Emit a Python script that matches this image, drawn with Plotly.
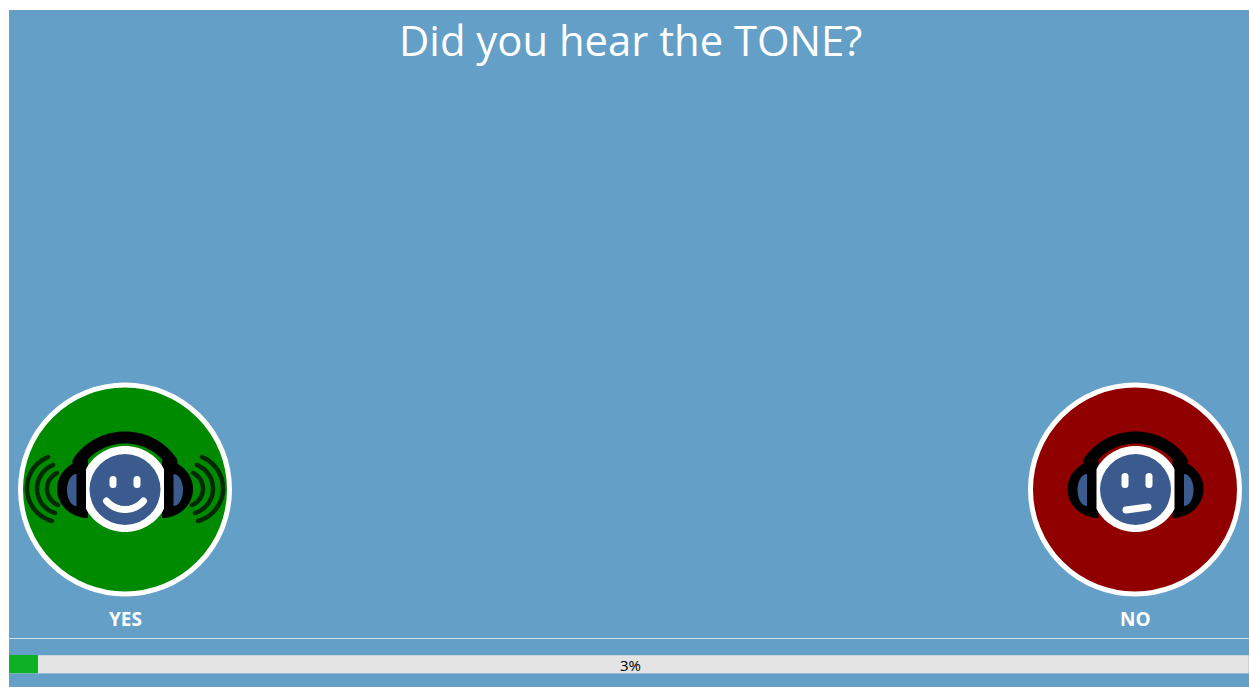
import math
import plotly.graph_objects as go

W, H = 1249, 687
title_text = "Did you hear the TONE?"
answer_labels = ["YES", "NO"]
progress_label = "3%"
progress_track = [100]
progress_fill = [2.34]

BG = "#649fc8"
BLUE = "#3b5b8f"
GREEN = "#008a00"
RED = "#900000"
FONT = "Open Sans"

shapes = []


def circle(cx, cy, r, fill, line=None, lw=0):
    shapes.append(dict(type="circle", xref="x", yref="y", x0=cx - r, x1=cx + r,
                       y0=cy - r, y1=cy + r, fillcolor=fill,
                       line=dict(color=line or fill, width=lw)))


def path(d, fill="rgba(0,0,0,0)", line="rgba(0,0,0,0)", lw=0, opacity=1):
    shapes.append(dict(type="path", xref="x", yref="y", path=d, fillcolor=fill,
                       opacity=opacity, line=dict(color=line, width=lw)))


def pts_path(points, close=True):
    s = "M" + " L".join(f"{x:.2f},{y:.2f}" for x, y in points)
    return s + (" Z" if close else "")


def curve(p0, mid, p2, color, lw):
    """Circular arc through three points."""
    ax, ay = p0
    bx, by = mid
    cx, cy = p2
    d = 2 * (ax * (by - cy) + bx * (cy - ay) + cx * (ay - by))
    ux = ((ax**2 + ay**2) * (by - cy) + (bx**2 + by**2) * (cy - ay) + (cx**2 + cy**2) * (ay - by)) / d
    uy = ((ax**2 + ay**2) * (cx - bx) + (bx**2 + by**2) * (ax - cx) + (cx**2 + cy**2) * (bx - ax)) / d
    r = math.hypot(ax - ux, ay - uy)
    a0 = math.atan2(ay - uy, ax - ux)
    am = math.atan2(by - uy, bx - ux)
    a2 = math.atan2(cy - uy, cx - ux)
    d1 = (am - a0 + math.pi) % (2 * math.pi) - math.pi
    d2 = (a2 - am + math.pi) % (2 * math.pi) - math.pi
    pts = []
    for i in range(31):
        t = i / 30
        a = a0 + (d1 + d2) * t
        pts.append((ux + r * math.cos(a), uy + r * math.sin(a)))
    path(pts_path(pts, close=False), line=color, lw=lw)


def ear(flat_x, out_x, top, bot, fill):
    cy = (top + bot) / 2
    ry = (bot - top) / 2
    pts = []
    for i in range(41):
        a = math.pi * (i / 40 - 0.5)
        pts.append((flat_x + (out_x - flat_x) * math.cos(a), cy + ry * math.sin(a)))
    path(pts_path(pts), fill=fill)


def head(cx, cy, fill, dx=0.0):
    # dial
    circle(cx, cy + 0.5, 104.5, fill, "white", 5)
    # headband
    band = []
    for i in range(41):
        a = math.radians(212 + (328 - 212) * i / 40)
        band.append((cx + dx + 55 * math.cos(a), cy + 0.5 + 52 * math.sin(a)))
    path(pts_path(band, close=False), line="black", lw=12)
    # ear cups
    for sgn in (-1, 1):
        ear(cx + dx + sgn * 37, cx + dx + sgn * 68, 460, 518, "black")
        ear(cx + dx + sgn * 48.5, cx + dx + sgn * 58, 474, 506, BLUE)
    # white ring, flattened at the sides
    ring = []
    lim = 39
    for i in range(121):
        a = 2 * math.pi * i / 120
        ring.append((cx + dx + max(-lim, min(lim, 44 * math.cos(a))), cy + 43 * math.sin(a)))
    path(pts_path(ring), fill="white")
    circle(cx + dx, cy + 0.5, 35.5, BLUE)


# page background, separator
shapes.append(dict(type="rect", xref="x", yref="y", x0=9, x1=W, y0=10, y1=H,
                   fillcolor=BG, line=dict(width=0), layer="below"))
shapes.append(dict(type="line", xref="x", yref="y", x0=9, x1=W, y0=638.5, y1=638.5,
                   line=dict(color="#cfe0ec", width=1), layer="below"))

# YES
head(125, 489, GREEN)
curve((106.5, 501), (125, 509.5), (143.5, 501), "white", 7)
for ex in (113, 137):
    path(f"M{ex},479.5 L{ex},484.5", line="white", lw=7)
for sgn in (-1, 1):
    for (x0, y0, xm, x2, y2) in [(77, 457, 98, 73, 521), (72, 465, 88, 70, 513), (68, 473, 78, 67, 505)]:
        curve((125 + sgn * x0, y0), (125 + sgn * xm, 489), (125 + sgn * x2, y2), "#012a01", 4.5)

# NO
head(1135, 489, RED, dx=0.5)
path("M1126,510 L1148,507", line="white", lw=7)
path("M1125,476.5 L1125,484.5", line="white", lw=7)
path("M1149,476.5 L1149,484.5", line="white", lw=7)

fig = go.Figure()
fig.add_trace(go.Scatter(x=[0, W], y=[0, H], mode="markers", marker=dict(opacity=0),
                         hoverinfo="skip", showlegend=False))
fig.add_trace(go.Bar(x=progress_track, y=[0], orientation="h", width=1, xaxis="x2", yaxis="y2",
                     marker=dict(color="#e4e4e4", line=dict(color="#a9c4d8", width=1)),
                     hoverinfo="skip", showlegend=False))
fig.add_trace(go.Bar(x=progress_fill, y=[0], orientation="h", width=1, xaxis="x2", yaxis="y2",
                     marker=dict(color="#0bb024", line=dict(width=0)),
                     hoverinfo="skip", showlegend=False))

annotations = [
    dict(x=630.5, y=39, text=title_text, font=dict(size=41.8, color="white", family=FONT, weight=400)),
    dict(x=125.5, y=619, text=answer_labels[0], font=dict(size=19, color="white", family=FONT, weight=700)),
    dict(x=1135.5, y=619, text=answer_labels[1], font=dict(size=19, color="white", family=FONT, weight=700)),
    dict(x=630.5, y=665, text=progress_label, font=dict(size=15, color="black", family=FONT)),
]
for a in annotations:
    a.update(xref="x", yref="y", showarrow=False, xanchor="center", yanchor="middle")

fig.update_layout(
    width=W, height=H, margin=dict(l=0, r=0, t=0, b=0, pad=0), autosize=False,
    paper_bgcolor="white", plot_bgcolor="rgba(0,0,0,0)", barmode="overlay",
    shapes=shapes, annotations=annotations, showlegend=False,
    xaxis=dict(range=[0, W], domain=[0, 1], visible=False, fixedrange=True),
    yaxis=dict(range=[H, 0], domain=[0, 1], visible=False, fixedrange=True),
    xaxis2=dict(range=[0, 100], domain=[9 / W, 1], visible=False, anchor="y2", fixedrange=True),
    yaxis2=dict(range=[-0.5, 0.5], domain=[(H - 673.5) / H, (H - 655) / H], visible=False,
                anchor="x2", fixedrange=True),
)

post = """
document.documentElement.style.overflow='hidden';
document.body.style.margin='0';
document.body.style.overflow='hidden';
document.querySelectorAll('.shapelayer path').forEach(function(p){p.style.strokeLinecap='round';p.style.strokeLinejoin='round';});
"""
fig.write_html("out.html", post_script=post, config=dict(displayModeBar=False))
